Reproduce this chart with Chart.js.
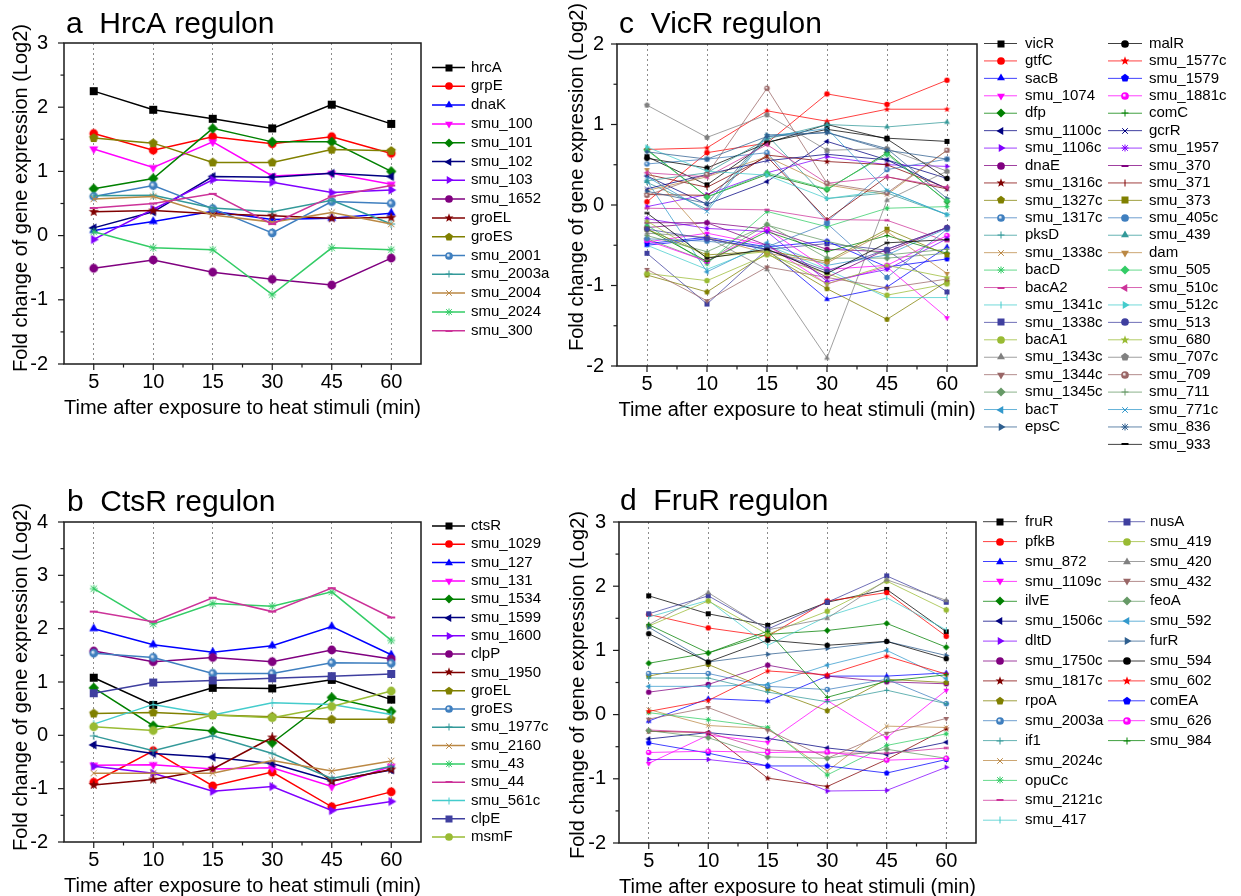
<!DOCTYPE html>
<html>
<head>
<meta charset="utf-8">
<script src="https://cdn.jsdelivr.net/npm/chart.js@4.4.1/dist/chart.umd.min.js"></script>
<style>
  html, body { margin: 0; padding: 0; background: #fff; overflow: hidden; }
  #page { position: relative; width: 1241px; height: 896px; overflow: hidden; background: #fff; }
  canvas { position: absolute; }
</style>
</head>
<body>
<div id="page">
  <canvas id="chartA"></canvas>
  <canvas id="chartC"></canvas>
  <canvas id="chartB"></canvas>
  <canvas id="chartD"></canvas>
</div>
<script>
// time points (min)
const times = ['5', '10', '15', '30', '45', '60'];

// a  HrcA regulon
const hrcaGenes = ['hrcA', 'grpE', 'dnaK', 'smu_100', 'smu_101', 'smu_102', 'smu_103', 'smu_1652',
  'groEL', 'groES', 'smu_2001', 'smu_2003a', 'smu_2004', 'smu_2024', 'smu_300'];
const hrcaValues = [
  [2.25, 1.96, 1.82, 1.67, 2.04, 1.74],
  [1.59, 1.33, 1.54, 1.43, 1.54, 1.28],
  [0.08, 0.22, 0.38, 0.25, 0.27, 0.35],
  [1.35, 1.06, 1.46, 0.93, 0.97, 0.80],
  [0.73, 0.89, 1.67, 1.46, 1.46, 1.00],
  [0.12, 0.37, 0.92, 0.91, 0.97, 0.92],
  [-0.06, 0.41, 0.87, 0.83, 0.67, 0.71],
  [-0.51, -0.38, -0.57, -0.68, -0.77, -0.35],
  [0.37, 0.39, 0.34, 0.31, 0.27, 0.28],
  [1.52, 1.44, 1.14, 1.14, 1.34, 1.32],
  [0.61, 0.78, 0.42, 0.04, 0.53, 0.50],
  [0.62, 0.63, 0.43, 0.37, 0.55, 0.18],
  [0.57, 0.61, 0.32, 0.21, 0.36, 0.18],
  [0.06, -0.19, -0.22, -0.92, -0.19, -0.22],
  [0.43, 0.50, 0.65, 0.18, 0.61, 0.78]
];

// b  CtsR regulon
const ctsrGenes = ['ctsR', 'smu_1029', 'smu_127', 'smu_131', 'smu_1534', 'smu_1599', 'smu_1600', 'clpP',
  'smu_1950', 'groEL', 'groES', 'smu_1977c', 'smu_2160', 'smu_43', 'smu_44', 'smu_561c', 'clpE', 'msmF'];
const ctsrValues = [
  [1.08, 0.57, 0.89, 0.88, 1.04, 0.67],
  [-0.88, -0.29, -0.95, -0.69, -1.34, -1.06],
  [2.00, 1.70, 1.56, 1.68, 2.04, 1.51],
  [-0.56, -0.55, -0.63, -0.61, -0.96, -0.58],
  [0.89, 0.18, 0.08, -0.14, 0.71, 0.45],
  [-0.18, -0.34, -0.41, -0.53, -0.85, -0.65],
  [-0.58, -0.71, -1.05, -0.96, -1.41, -1.24],
  [1.58, 1.38, 1.46, 1.38, 1.60, 1.43],
  [-0.93, -0.83, -0.63, -0.04, -0.86, -0.64],
  [0.41, 0.43, 0.38, 0.35, 0.30, 0.30],
  [1.54, 1.46, 1.16, 1.16, 1.36, 1.35],
  [-0.01, -0.29, -0.01, -0.34, -0.81, -0.58],
  [-0.71, -0.71, -0.71, -0.47, -0.67, -0.48],
  [2.75, 2.09, 2.47, 2.42, 2.69, 1.78],
  [2.32, 2.13, 2.58, 2.32, 2.76, 2.21],
  [0.21, 0.58, 0.38, 0.61, 0.58, 0.39],
  [0.79, 0.99, 1.03, 1.07, 1.11, 1.15],
  [0.16, 0.09, 0.38, 0.33, 0.54, 0.83]
];

// c  VicR regulon
const vicrGenes = ['vicR', 'gtfC', 'sacB', 'smu_1074', 'dfp', 'smu_1100c', 'smu_1106c', 'dnaE', 'smu_1316c',
  'smu_1327c', 'smu_1317c', 'pksD', 'smu_1338c', 'bacD', 'bacA2', 'smu_1341c', 'smu_1338c', 'bacA1',
  'smu_1343c', 'smu_1344c', 'smu_1345c', 'bacT', 'epsC',
  'malR', 'smu_1577c', 'smu_1579', 'smu_1881c', 'comC', 'gcrR', 'smu_1957', 'smu_370', 'smu_371',
  'smu_373', 'smu_405c', 'smu_439', 'dam', 'smu_505', 'smu_510c', 'smu_512c', 'smu_513', 'smu_680',
  'smu_707c', 'smu_709', 'smu_711', 'smu_771c', 'smu_836', 'smu_933'];
const vicrValues = [
  [0.60, 0.25, 0.78, 0.94, 0.83, 0.79],
  [0.04, 0.65, 0.77, 1.38, 1.25, 1.55],
  [-0.50, -0.42, -0.55, -1.17, -1.02, -0.52],
  [-0.46, -0.35, -0.50, -0.98, -0.77, -1.40],
  [0.69, 0.10, 0.38, 0.19, 0.65, 0.04],
  [0.36, 0.01, 0.29, 0.79, 0.56, 0.33],
  [-0.02, 0.13, 0.40, 0.60, 0.50, 0.48],
  [-0.28, -0.22, -0.30, -0.55, -0.58, -0.28],
  [0.13, 0.12, 0.62, 0.54, 0.50, 0.21],
  [-0.87, -1.08, -0.60, -1.04, -1.42, -0.95],
  [0.51, 0.57, 0.65, -0.21, 0.44, 0.57],
  [0.28, -0.05, 0.87, 0.08, 0.15, -0.12],
  [0.18, 0.35, 0.60, 0.25, 0.13, 0.68],
  [-0.25, -0.73, -0.08, -0.27, -0.04, -0.02],
  [-0.04, -0.05, -0.06, -0.18, -0.19, -0.45],
  [-0.50, -0.80, -0.50, -0.80, -1.15, -1.15],
  [-0.60, -1.23, -0.55, -0.48, -0.56, -1.08],
  [-0.85, -0.94, -0.62, -0.85, -1.12, -0.98],
  [-0.35, -0.40, -0.80, -1.90, 0.06, 0.42],
  [-0.80, -1.19, -0.77, -0.90, -1.03, -0.92],
  [-0.42, -0.70, -0.24, -0.66, -0.66, -0.60],
  [0.30, -0.83, -0.47, -0.75, -0.62, -0.29],
  [0.17, 0.02, 0.87, 0.90, 0.70, 0.08],
  [0.58, 0.46, 0.77, 1.00, 0.82, 0.33],
  [0.69, 0.71, 1.17, 1.04, 1.19, 1.19],
  [-0.48, -0.40, -0.52, -0.45, -0.77, -0.67],
  [-0.44, -0.70, -0.30, -0.80, -0.75, -0.38],
  [-0.30, -0.70, -0.33, -0.58, -0.38, -0.60],
  [0.20, 0.38, 0.55, 0.63, 0.56, 0.20],
  [-0.17, -0.29, -0.33, -0.95, -0.80, -0.42],
  [-0.22, -0.22, -0.50, -0.90, -0.55, -0.28],
  [0.38, 0.22, 0.60, -0.18, 0.35, 0.20],
  [-0.30, -0.62, -0.57, -0.70, -0.30, -0.62],
  [-0.42, -0.45, -0.52, -0.23, -0.90, -0.30],
  [0.30, 0.40, 0.82, 1.00, 0.97, 1.03],
  [0.44, -0.40, -0.60, -0.72, -0.33, -0.85],
  [0.68, 0.10, 0.40, 0.20, 0.63, 0.05],
  [0.40, 0.35, 0.75, 0.27, 0.35, 0.22],
  [0.72, 0.42, 0.37, 0.08, 0.18, -0.12],
  [-0.30, -0.42, -0.55, -0.82, -0.55, -0.28],
  [-0.20, -0.65, -0.58, -0.98, -0.75, -0.90],
  [1.24, 0.84, 1.12, 0.68, 0.70, 0.42],
  [0.12, 0.38, 1.45, 0.27, 0.15, 0.68],
  [-0.38, -0.58, -0.25, -0.45, -0.62, -0.55],
  [0.35, -0.08, 0.85, 0.95, 0.18, -0.12],
  [0.66, 0.57, 0.85, 0.90, 0.68, 0.57],
  [-0.10, -0.66, -0.55, -0.85, -0.47, -0.43]
];

// d  FruR regulon
const frurGenes = ['fruR', 'pfkB', 'smu_872', 'smu_1109c', 'ilvE', 'smu_1506c', 'dltD', 'smu_1750c',
  'smu_1817c', 'rpoA', 'smu_2003a', 'if1', 'smu_2024c', 'opuCc', 'smu_2121c', 'smu_417',
  'nusA', 'smu_419', 'smu_420', 'smu_432', 'feoA', 'smu_592', 'furR', 'smu_594', 'smu_602',
  'comEA', 'smu_626', 'smu_984'];
const frurValues = [
  [1.85, 1.57, 1.39, 1.75, 1.95, 1.29],
  [1.56, 1.35, 1.22, 1.77, 1.90, 1.22],
  [-0.10, 0.25, 0.21, 0.60, 0.60, 0.65],
  [-0.76, -0.32, -0.43, 0.22, -0.36, 0.38],
  [0.80, 0.96, 1.25, 1.31, 1.42, 1.05],
  [-0.38, -0.28, -0.37, -0.52, -0.62, -0.43],
  [-0.70, -0.70, -0.80, -1.19, -1.18, -0.82],
  [0.35, 0.47, 0.77, 0.60, 0.51, 0.48],
  [-0.26, -0.28, -0.99, -1.12, -0.70, -0.22],
  [0.60, 0.78, 0.40, 0.06, 0.55, 0.50],
  [0.64, 0.64, 0.44, 0.39, 0.55, 0.17],
  [0.57, 0.57, 0.35, 0.20, 0.38, 0.17],
  [0.08, -0.17, -0.22, -0.88, -0.18, -0.20],
  [0.03, -0.08, -0.20, -0.94, -0.48, -0.30],
  [-0.24, -0.28, -0.55, -0.60, -0.60, -0.52],
  [1.52, 1.78, 1.08, 1.53, 1.82, 1.32],
  [1.57, 1.85, 1.33, 1.75, 2.16, 1.75],
  [1.38, 1.77, 1.25, 1.61, 2.08, 1.63],
  [1.40, 1.90, 1.32, 1.50, 2.10, 1.78],
  [-0.07, 0.11, -0.24, -0.68, -0.29, -0.06],
  [-0.25, -0.36, -0.66, -0.68, -0.54, -0.68],
  [0.44, 0.44, 0.47, 0.77, 1.00, 0.56],
  [1.36, 0.82, 0.94, 1.03, 1.14, 0.92],
  [1.26, 0.82, 1.16, 1.08, 1.14, 0.87],
  [0.05, 0.22, 0.68, 0.62, 0.91, 0.63],
  [-0.44, -0.60, -0.80, -0.80, -0.91, -0.70],
  [-0.59, -0.57, -0.59, -0.58, -0.71, -0.68],
  [1.40, 0.96, 1.30, 0.27, 0.52, 0.62]
];

// look
const FONT = "'Liberation Sans', Arial, sans-serif";
const X_TITLE = 'Time after exposure to heat stimuli (min)';
const Y_TITLE = 'Fold change of gene expression (Log2)';
const palette = ['#000000', '#FF0000', '#0000FF', '#FF00FF', '#008000', '#000080', '#8000FF', '#800080',
  '#800000', '#808000', '#3F7FBF', '#339999', '#BB8844', '#33CC66', '#CC3399', '#44CCCC', '#3F3F9F',
  '#99BB33', '#808080', '#996666', '#669966', '#3399CC', '#2F5F8F'];
const shapes = ['square', 'circle', 'triUp', 'triDown', 'diamond', 'triLeft', 'triRight', 'circle',
  'star', 'pentagon', 'sphere', 'plus', 'cross', 'asterisk', 'dash', 'vbar'];

function withAlpha(hex, a) {
  const n = parseInt(hex.slice(1), 16);
  return 'rgba(' + (n >> 16) + ',' + ((n >> 8) & 255) + ',' + (n & 255) + ',' + a + ')';
}

function polyPath(g, cx, cy, pts) {
  g.beginPath();
  pts.forEach(([r, a], i) => {
    const px = cx + r * Math.cos(a), py = cy + r * Math.sin(a);
    if (i === 0) g.moveTo(px, py); else g.lineTo(px, py);
  });
  g.closePath();
}

function regular(n, r, rot) {
  const pts = [];
  for (let i = 0; i < n; i++) pts.push([r, rot + i * 2 * Math.PI / n]);
  return pts;
}

// marker images, used both on the lines and in the legends
const markerCache = {};
function marker(shape, color, size) {
  const key = shape + color + size;
  if (markerCache[key]) return markerCache[key];
  const n = Math.ceil(size * 1.7) + 2;
  const c = document.createElement('canvas');
  c.width = n; c.height = n;
  const g = c.getContext('2d');
  const m = n / 2, h = size / 2;
  g.fillStyle = color;
  g.strokeStyle = color;
  g.lineWidth = 1;
  const D = Math.PI / 180;
  if (shape === 'square') {
    g.fillRect(m - h, m - h, size, size);
  } else if (shape === 'circle') {
    g.beginPath(); g.arc(m, m, h * 1.1, 0, 2 * Math.PI); g.fill();
  } else if (shape === 'sphere') {
    const gr = g.createRadialGradient(m - h * 0.3, m - h * 0.3, 0.3, m, m, h * 1.1);
    gr.addColorStop(0, '#ffffff');
    gr.addColorStop(0.5, color);
    gr.addColorStop(1, color);
    g.fillStyle = gr;
    g.beginPath(); g.arc(m, m, h * 1.1, 0, 2 * Math.PI); g.fill();
  } else if (shape.startsWith('tri')) {
    const rot = {triUp: -90, triDown: 90, triLeft: 180, triRight: 0}[shape] * D;
    polyPath(g, m, m, regular(3, h * 1.3, rot)); g.fill();
  } else if (shape === 'diamond') {
    polyPath(g, m, m, regular(4, h * 1.3, -90 * D)); g.fill();
  } else if (shape === 'pentagon') {
    polyPath(g, m, m, regular(5, h * 1.2, -90 * D)); g.fill();
  } else if (shape === 'star') {
    const pts = [];
    for (let i = 0; i < 10; i++) pts.push([i % 2 ? h * 0.55 : h * 1.35, -90 * D + i * 36 * D]);
    polyPath(g, m, m, pts); g.fill();
  } else {
    g.beginPath();
    if (shape === 'plus' || shape === 'asterisk') {
      g.moveTo(m, m - h); g.lineTo(m, m + h); g.moveTo(m - h, m); g.lineTo(m + h, m);
    }
    if (shape === 'cross' || shape === 'asterisk') {
      const d = h * 0.8;
      g.moveTo(m - d, m - d); g.lineTo(m + d, m + d); g.moveTo(m - d, m + d); g.lineTo(m + d, m - d);
    }
    if (shape === 'vbar') { g.moveTo(m, m - h); g.lineTo(m, m + h); }
    if (shape === 'dash') { g.lineWidth = 2; g.moveTo(m - h, m); g.lineTo(m + h, m); }
    g.stroke();
  }
  markerCache[key] = c;
  return c;
}

function seg(ctx, x1, y1, x2, y2) {
  ctx.beginPath(); ctx.moveTo(x1, y1); ctx.lineTo(x2, y2); ctx.stroke();
}

// frame, minor ticks, panel title, y title and two-column legend
const panelDecor = {
  id: 'panelDecor',
  afterDraw(chart, args, o) {
    const ctx = chart.ctx;
    const {left, right, top, bottom} = chart.chartArea;
    const xs = chart.scales.x, ys = chart.scales.y;
    ctx.save();
    ctx.strokeStyle = '#1a1a1a';
    ctx.lineWidth = 1.5;
    ctx.strokeRect(left, top, right - left, bottom - top);
    ctx.lineWidth = 1.2;
    for (let v = ys.min; v <= ys.max + 1e-9; v += 0.5) {
      const py = ys.getPixelForValue(v);
      seg(ctx, left - (Number.isInteger(v) ? 6 : 3.5), py, left, py);
    }
    for (let i = 0; i < times.length; i++) {
      const px = xs.getPixelForValue(i);
      seg(ctx, px, bottom, px, bottom + 6);
      const pm = xs.getPixelForValue(i + 0.5);
      if (i < times.length - 1) seg(ctx, pm, bottom, pm, bottom + 3.5);
    }

    ctx.fillStyle = '#000';
    ctx.font = '30px ' + FONT;
    ctx.textAlign = 'left';
    ctx.textBaseline = 'alphabetic';
    ctx.fillText(o.title, o.titleX - o.ox, o.titleY - o.oy);

    ctx.save();
    ctx.translate(o.yTitleX - o.ox, o.yTitleY - o.oy);
    ctx.rotate(-Math.PI / 2);
    ctx.font = '20px ' + FONT;
    ctx.textAlign = 'center';
    ctx.textBaseline = 'middle';
    ctx.fillText(Y_TITLE, 0, 0);
    ctx.restore();

    ctx.font = '15px ' + FONT;
    ctx.textBaseline = 'middle';
    chart.data.datasets.forEach((ds, i) => {
      const col = i < o.split ? 0 : 1;
      const row = col ? i - o.split : i;
      const L = o.cols[col];
      const ly = o.legendY + row * o.rowH - o.oy;
      ctx.strokeStyle = ds.borderColor;
      ctx.lineWidth = ds.borderWidth;
      seg(ctx, L.x1 - o.ox, ly, L.x2 - o.ox, ly);
      const img = marker(shapes[i % shapes.length], ds.backgroundColor, o.legendMarker);
      ctx.drawImage(img, Math.round((L.x1 + L.x2) / 2 - o.ox - img.width / 2), Math.round(ly - img.height / 2));
      ctx.fillText(ds.label, L.tx - o.ox, ly);
    });
    ctx.restore();
  }
};

function makePanel(id, box, area, genes, values, yMin, yMax, look, deco) {
  const canvas = document.getElementById(id);
  canvas.width = box.w; canvas.height = box.h;
  canvas.style.left = box.x + 'px';
  canvas.style.top = box.y + 'px';
  const axisW = area.left - box.x;
  const n = genes.length;
  const datasets = genes.map((g, i) => ({
    label: g,
    data: values[i],
    borderColor: withAlpha(palette[i % palette.length], look.alpha),
    backgroundColor: palette[i % palette.length],
    borderWidth: look.lineWidth,
    pointStyle: marker(shapes[i % shapes.length], palette[i % palette.length], look.marker),
    pointRadius: 4,
    pointHoverRadius: 4,
    tension: 0,
    fill: false,
    order: n - i
  }));
  new Chart(canvas, {
    type: 'line',
    data: { labels: times, datasets: datasets },
    options: {
      responsive: false,
      animation: false,
      events: [],
      layout: {
        padding: {
          left: 0,
          top: area.top - box.y,
          right: box.x + box.w - area.right,
          bottom: box.y + box.h - area.bottom - 60
        }
      },
      plugins: {
        legend: { display: false },
        tooltip: { enabled: false },
        panelDecor: Object.assign({ ox: box.x, oy: box.y, legendMarker: look.legendMarker }, deco)
      },
      scales: {
        x: {
          offset: true,
          grid: { display: true, drawTicks: false, offset: false, color: '#8c8c8c', lineWidth: 1 },
          border: { display: false, dash: [2, 3] },
          ticks: { color: '#000', font: { family: FONT, size: 20 }, padding: 6, maxRotation: 0, autoSkip: false },
          title: { display: true, text: X_TITLE, color: '#000', font: { family: FONT, size: 20 }, padding: { top: 0, bottom: 4 } },
          afterFit: s => { s.height = 60; }
        },
        y: {
          min: yMin,
          max: yMax,
          grid: { display: false },
          border: { display: false },
          ticks: { stepSize: 1, color: '#000', font: { family: FONT, size: 20 }, padding: look.tickPad },
          afterFit: s => { s.width = axisW; }
        }
      }
    },
    plugins: [panelDecor]
  });
}

const bold = { lineWidth: 1.5, alpha: 1, marker: 8, legendMarker: 7, tickPad: 8 };
const thin = { lineWidth: 1, alpha: 0.75, marker: 5, legendMarker: 7, tickPad: 5 };
const leftCol = [{ x1: 432, x2: 465, tx: 471 }];

makePanel('chartA', { x: 0, y: 0, w: 600, h: 440 }, { left: 64, top: 43, right: 421, bottom: 364 },
  hrcaGenes, hrcaValues, -2, 3, bold,
  { title: 'a  HrcA regulon', titleX: 66, titleY: 33, yTitleX: 21, yTitleY: 198,
    cols: leftCol, split: 99, legendY: 67.5, rowH: 18.8 });

makePanel('chartB', { x: 0, y: 450, w: 600, h: 460 }, { left: 64, top: 522, right: 421, bottom: 842 },
  ctsrGenes, ctsrValues, -2, 4, bold,
  { title: 'b  CtsR regulon', titleX: 67, titleY: 511, yTitleX: 21, yTitleY: 677,
    cols: leftCol, split: 99, legendY: 526, rowH: 18.3 });

makePanel('chartC', { x: 560, y: 0, w: 681, h: 470 }, { left: 617, top: 44, right: 977, bottom: 366 },
  vicrGenes, vicrValues, -2, 2, thin,
  { title: 'c  VicR regulon', titleX: 619, titleY: 33, yTitleX: 577, yTitleY: 177,
    cols: [{ x1: 984, x2: 1017, tx: 1025 }, { x1: 1108, x2: 1142, tx: 1149 }],
    split: 23, legendY: 43.5, rowH: 17.43 });

makePanel('chartD', { x: 560, y: 450, w: 681, h: 460 }, { left: 619, top: 522, right: 976, bottom: 843 },
  frurGenes, frurValues, -2, 3, thin,
  { title: 'd  FruR regulon', titleX: 620, titleY: 510, yTitleX: 578, yTitleY: 685,
    cols: [{ x1: 983, x2: 1017, tx: 1025 }, { x1: 1108, x2: 1145, tx: 1150 }],
    split: 16, legendY: 521.7, rowH: 19.9 });
</script>
</body>
</html>
